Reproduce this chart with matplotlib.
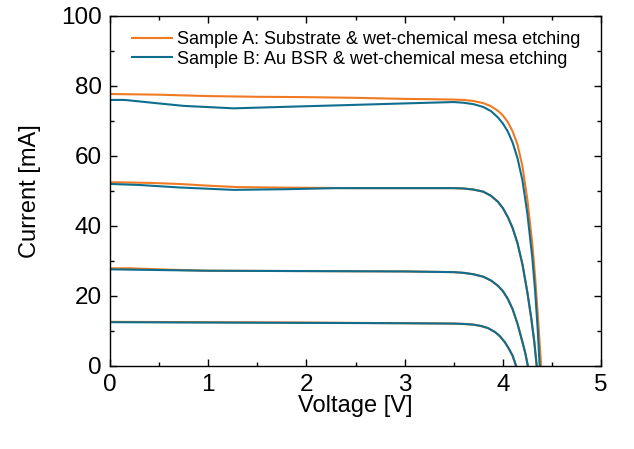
import matplotlib
matplotlib.use("Agg")
import matplotlib.pyplot as plt
from matplotlib.ticker import MultipleLocator

# I-V curves, four illumination levels per sample
# sample A (orange)
a_v77 = [0.0, 0.5, 1.0, 1.5, 2.0, 2.5, 3.0, 3.3, 3.5, 3.6, 3.7, 3.8, 3.88, 3.95, 4.0, 4.05,
         4.1, 4.15, 4.2, 4.25, 4.3, 4.33, 4.36, 4.39]
a_i77 = [77.7, 77.5, 77.1, 76.9, 76.8, 76.6, 76.3, 76.2, 76.1, 76.0, 75.7, 75.1, 74.2, 72.9,
         71.6, 69.7, 67.0, 63.2, 57.0, 47.5, 35.0, 25.0, 13.0, 0.0]
a_v52 = [0.0, 0.4, 0.7, 1.0, 1.3, 1.6, 2.0, 2.5, 3.0, 3.5, 3.6, 3.7, 3.8, 3.88, 3.95, 4.0,
         4.05, 4.1, 4.15, 4.2, 4.25, 4.29, 4.32, 4.345]
a_i52 = [52.5, 52.3, 52.0, 51.5, 51.1, 51.0, 50.9, 50.8, 50.8, 50.8, 50.7, 50.4, 49.8, 48.6,
         46.9, 45.1, 42.6, 39.4, 35.0, 29.0, 21.0, 13.5, 7.0, 0.0]
a_v27 = [0.0, 0.2, 0.6, 1.0, 2.0, 3.0, 3.5, 3.6, 3.7, 3.8, 3.88, 3.95, 4.0, 4.05, 4.1, 4.15,
         4.2, 4.23, 4.255]
a_i27 = [27.9, 27.9, 27.5, 27.2, 27.1, 27.0, 26.8, 26.6, 26.2, 25.5, 24.4, 22.9, 21.4, 19.2,
         16.2, 12.0, 6.8, 3.5, 0.0]
a_v12 = [0.0, 1.0, 2.0, 3.0, 3.5, 3.6, 3.7, 3.78, 3.85, 3.92, 3.97, 4.02, 4.06, 4.1, 4.135]
a_i12 = [12.6, 12.5, 12.4, 12.2, 12.1, 12.0, 11.8, 11.4, 10.8, 9.7, 8.5, 6.8, 5.0, 2.9, 0.0]

# sample B (blue)
b_v77 = [0.0, 0.15, 0.5, 0.75, 1.26, 1.87, 2.38, 2.99, 3.5, 3.6, 3.7, 3.8, 3.88, 3.95, 4.0,
         4.05, 4.1, 4.15, 4.2, 4.25, 4.3, 4.33, 4.355, 4.375]
b_i77 = [76.0, 76.0, 75.0, 74.3, 73.6, 74.1, 74.5, 75.0, 75.4, 75.2, 74.8, 74.0, 72.8, 71.0,
         69.3, 67.0, 63.8, 59.3, 53.0, 43.5, 31.0, 21.0, 10.5, 0.0]
b_v52 = [0.0, 0.3, 0.7, 1.26, 1.8, 2.3, 3.0, 3.5, 3.6, 3.7, 3.8, 3.88, 3.95, 4.0, 4.05, 4.1,
         4.15, 4.2, 4.25, 4.29, 4.32, 4.345]
b_i52 = [52.0, 51.7, 51.0, 50.3, 50.5, 50.8, 50.8, 50.8, 50.7, 50.4, 49.8, 48.6, 46.9, 45.1,
         42.6, 39.4, 35.0, 29.0, 21.0, 13.5, 7.0, 0.0]
b_v27 = [0.0, 1.0, 2.0, 3.0, 3.5, 3.6, 3.7, 3.8, 3.88, 3.95, 4.0, 4.05, 4.1, 4.15, 4.2, 4.23,
         4.255]
b_i27 = [27.6, 27.2, 27.1, 27.0, 26.8, 26.6, 26.2, 25.5, 24.4, 22.9, 21.4, 19.2, 16.2, 12.0,
         6.8, 3.5, 0.0]
b_v12 = [0.0, 1.0, 2.0, 3.0, 3.5, 3.6, 3.7, 3.78, 3.85, 3.92, 3.97, 4.02, 4.06, 4.1, 4.135]
b_i12 = [12.5, 12.4, 12.3, 12.2, 12.1, 12.0, 11.8, 11.4, 10.8, 9.7, 8.5, 6.8, 5.0, 2.9, 0.0]

label_a = "Sample A: Substrate & wet-chemical mesa etching"
label_b = "Sample B: Au BSR & wet-chemical mesa etching"
col_a = "#F07A22"
col_b = "#0F6E8E"

plt.rcParams["font.family"] = ["Liberation Sans", "DejaVu Sans"]

fig = plt.figure(figsize=(6.34, 4.49), dpi=100)
ax = fig.add_axes([0.1735, 0.185, 0.7745, 0.7795])

lw = 1.5
ax.plot(a_v77, a_i77, color=col_a, lw=lw, label=label_a)
ax.plot(b_v77, b_i77, color=col_b, lw=lw, label=label_b)
for v, i in [(a_v52, a_i52), (a_v27, a_i27), (a_v12, a_i12)]:
    ax.plot(v, i, color=col_a, lw=lw)
for v, i in [(b_v52, b_i52), (b_v27, b_i27), (b_v12, b_i12)]:
    ax.plot(v, i, color=col_b, lw=lw)

ax.set_xlim(0, 5)
ax.set_ylim(0, 100)
ax.xaxis.set_major_locator(MultipleLocator(1))
ax.xaxis.set_minor_locator(MultipleLocator(0.5))
ax.yaxis.set_major_locator(MultipleLocator(20))
ax.yaxis.set_minor_locator(MultipleLocator(10))
ax.tick_params(which="both", direction="in", top=True, right=True, width=1.0,
               labelsize=17.5, pad=6)
ax.tick_params(which="major", length=5)
ax.tick_params(which="minor", length=3)
for s in ax.spines.values():
    s.set_linewidth(1.0)

ax.set_xlabel("Voltage [V]", fontsize=17, labelpad=-1)
ax.set_ylabel("Current [mA]", fontsize=17, labelpad=14)

ax.legend(loc="upper left", bbox_to_anchor=(0.045, 0.956), frameon=False,
          fontsize=13, handlelength=2.2, handletextpad=0.3, labelspacing=0.12,
          borderaxespad=0, borderpad=0)

fig.savefig("out.png", dpi=100)
